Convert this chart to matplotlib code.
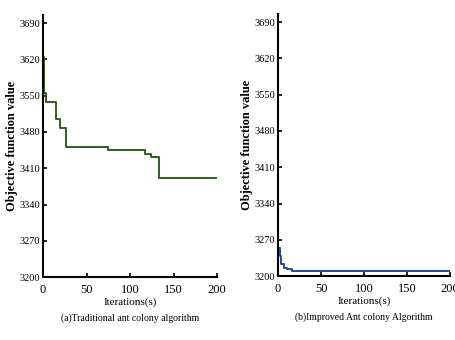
import matplotlib
matplotlib.use("Agg")
import matplotlib.pyplot as plt

# Data (step curves: iteration where value changes, value)
trad_x = [0, 1, 3, 15, 20, 26, 75, 117, 124, 133, 200]
trad_y = [3625, 3555, 3538, 3505, 3488, 3450, 3445, 3438, 3432, 3392, 3392]
impr_x = [0, 2, 4, 7, 11, 16, 200]
impr_y = [3255, 3238, 3224, 3216, 3213, 3210, 3210]

yticks = [3200, 3270, 3340, 3410, 3480, 3550, 3620, 3690]
xticks = [0, 50, 100, 150, 200]
ylabel = "Objective function value"
xlabel = "Iterations(s)"
captions = ["(a)Traditional ant colony algorithm", "(b)Improved Ant colony Algorithm"]

plt.rcParams['font.family'] = ['Liberation Serif', 'DejaVu Serif']
fig = plt.figure(figsize=(4.55, 3.4), dpi=100)
axes = [fig.add_axes([0.0945, 0.185, 0.383, 0.77]),
        fig.add_axes([0.611, 0.188, 0.378, 0.77])]
series = [(trad_x, trad_y, '#2f5e1c'), (impr_x, impr_y, '#2346a8')]

for ax, (xs, ys, c), cap in zip(axes, series, captions):
    ax.step(xs, ys, where='post', color=c, lw=1.4)
    ax.set_xlim(0, 200)
    ax.set_ylim(3200, 3705)
    ax.set_xticks(xticks)
    ax.set_yticks(yticks)
    for s in ['top', 'right']:
        ax.spines[s].set_visible(False)
    for s in ['left', 'bottom']:
        ax.spines[s].set_linewidth(1.5)
    ax.tick_params(direction='in', length=3, width=1.2, pad=2)
    ax.tick_params(axis='y', labelsize=7.5)
    ax.tick_params(axis='x', labelsize=9, pad=5)
    ax.set_ylabel(ylabel, fontsize=9, fontweight='bold', labelpad=1)
    ax.set_xlabel(xlabel, fontsize=8, labelpad=1)
    ax.text(0.5, -0.14, cap, transform=ax.transAxes, ha='center', va='top',
            fontsize=7)

fig.savefig("out.png", dpi=100)
